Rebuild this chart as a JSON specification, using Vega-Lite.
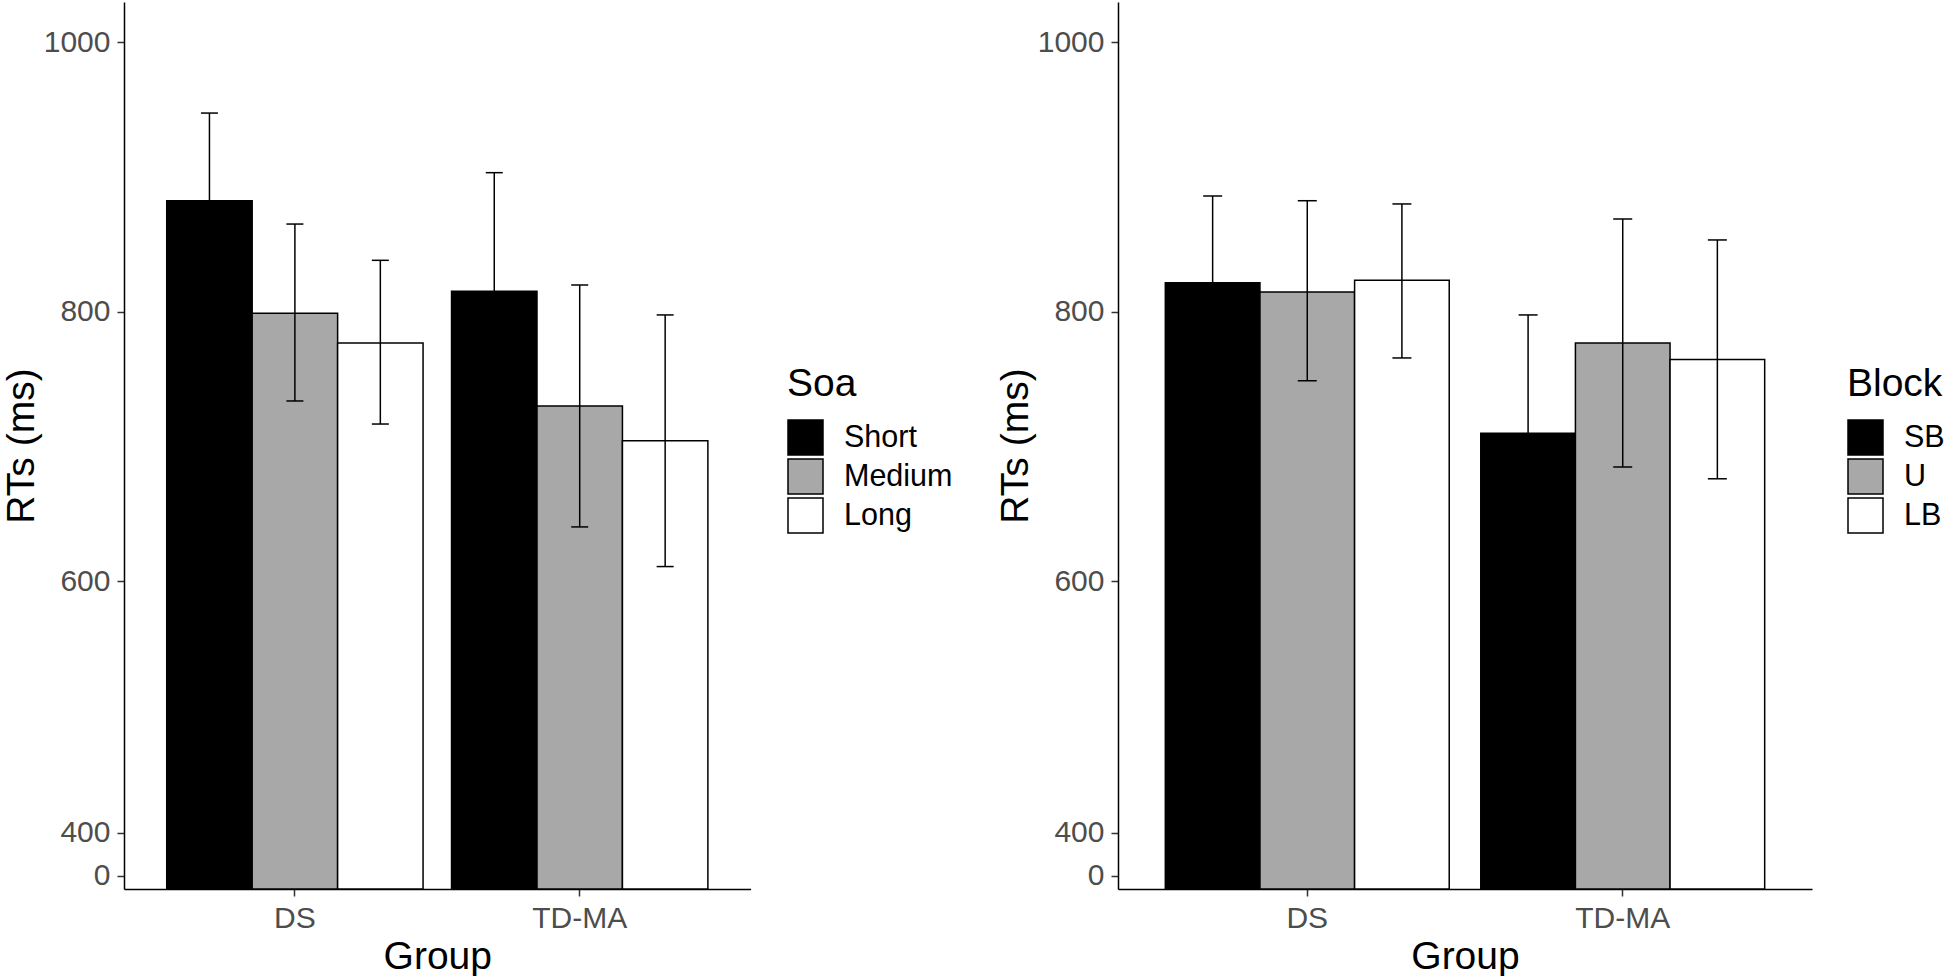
{
  "$schema": "https://vega.github.io/schema/vega-lite/v6.json",
  "background": "white",
  "padding": {"left": 2, "top": 2, "right": 0, "bottom": 0},
  "bounds": "flush",
  "spacing": 367,
  "config": {
    "font": "Liberation Sans",
    "view": {"stroke": null},
    "axis": {
      "grid": false,
      "domainColor": "black",
      "domainWidth": 1.5,
      "tickColor": "#333333",
      "tickWidth": 1.5,
      "tickSize": 7,
      "labelFontSize": 30,
      "labelColor": "#4D4D4D",
      "labelPadding": 7,
      "titleFontSize": 39,
      "titleFontWeight": "normal",
      "titleColor": "black"
    },
    "axisX": {"titlePadding": 4, "labelAngle": 0},
    "axisY": {"titlePadding": 2, "format": "d"},
    "legend": {
      "orient": "none",
      "padding": 0,
      "titleFontSize": 39,
      "titleFontWeight": "normal",
      "titleColor": "black",
      "titlePadding": 15,
      "labelFontSize": 30.5,
      "labelColor": "black",
      "labelOffset": 20,
      "symbolType": "square",
      "symbolSize": 1225,
      "symbolStrokeColor": "black",
      "symbolStrokeWidth": 1.5,
      "symbolOpacity": 1,
      "rowPadding": -2
    }
  },
  "datasets": {
    "soa": [
      {"Group": "DS", "Soa": "Short", "RT": 882.3, "lo": 817.3, "hi": 947.3},
      {"Group": "DS", "Soa": "Medium", "RT": 798.8, "lo": 733.8, "hi": 865.0},
      {"Group": "DS", "Soa": "Long", "RT": 776.8, "lo": 716.7, "hi": 838.1},
      {"Group": "TD-MA", "Soa": "Short", "RT": 815.1, "lo": 727.0, "hi": 903.1},
      {"Group": "TD-MA", "Soa": "Medium", "RT": 730.1, "lo": 640.4, "hi": 819.8},
      {"Group": "TD-MA", "Soa": "Long", "RT": 704.3, "lo": 611.0, "hi": 797.6}
    ],
    "block": [
      {"Group": "DS", "Block": "SB", "RT": 821.5, "lo": 757.2, "hi": 885.8},
      {"Group": "DS", "Block": "U", "RT": 814.6, "lo": 748.8, "hi": 882.3},
      {"Group": "DS", "Block": "LB", "RT": 823.3, "lo": 765.7, "hi": 879.9},
      {"Group": "TD-MA", "Block": "SB", "RT": 709.8, "lo": 622.0, "hi": 797.6},
      {"Group": "TD-MA", "Block": "U", "RT": 776.8, "lo": 684.8, "hi": 868.7},
      {"Group": "TD-MA", "Block": "LB", "RT": 764.6, "lo": 676.1, "hi": 853.2}
    ]
  },
  "resolve": {
    "scale": {"x": "independent", "y": "independent", "color": "independent", "xOffset": "independent"},
    "legend": {"color": "independent"},
    "axis": {"x": "independent", "y": "independent"}
  },
  "hconcat": [
    {
      "width": 626.6,
      "height": 887,
      "data": {"name": "soa"},
      "encoding": {
        "x": {"field": "Group", "type": "nominal", "sort": ["DS", "TD-MA"], "scale": {"paddingInner": 0.1, "paddingOuter": 0.15}, "axis": {"title": "Group"}},
        "xOffset": {"field": "Soa", "type": "nominal", "sort": ["Short", "Medium", "Long"], "scale": {"paddingInner": 0, "paddingOuter": 0}}
      },
      "layer": [
        {
          "mark": {"type": "bar", "stroke": "black", "strokeWidth": 1.5, "opacity": 1},
          "encoding": {
            "y": {"field": "RT", "type": "quantitative", "title": "RTs (ms)",
              "scale": {"domain": [-123.7, 0, 400, 600, 1000, 1029.66], "range": [887, 873.7, 830.7, 579.4, 40, 0], "zero": false, "nice": false},
              "axis": {"values": [0, 400, 600, 800, 1000]}},
            "y2": {"datum": -123.7},
            "color": {"field": "Soa", "type": "nominal", "sort": ["Short", "Medium", "Long"],
              "scale": {"domain": ["Short", "Medium", "Long"], "range": ["#000000", "#A8A8A8", "#FFFFFF"]},
              "legend": {"title": "Soa", "legendX": 663, "legendY": 363}}
          }
        },
        {
          "mark": {"type": "rule", "color": "black", "strokeWidth": 1.5},
          "encoding": {
            "y": {"field": "lo", "type": "quantitative", "title": "RTs (ms)"},
            "y2": {"field": "hi"}
          }
        },
        {
          "mark": {"type": "tick", "color": "black", "thickness": 1.5, "size": 17, "opacity": 1},
          "encoding": {"y": {"field": "hi", "type": "quantitative", "title": "RTs (ms)"}}
        },
        {
          "mark": {"type": "tick", "color": "black", "thickness": 1.5, "size": 17, "opacity": 1},
          "encoding": {"y": {"field": "lo", "type": "quantitative", "title": "RTs (ms)"}}
        }
      ]
    },
    {
      "width": 694,
      "height": 887,
      "data": {"name": "block"},
      "encoding": {
        "x": {"field": "Group", "type": "nominal", "sort": ["DS", "TD-MA"], "scale": {"paddingInner": 0.1, "paddingOuter": 0.15}, "axis": {"title": "Group"}},
        "xOffset": {"field": "Block", "type": "nominal", "sort": ["SB", "U", "LB"], "scale": {"paddingInner": 0, "paddingOuter": 0}}
      },
      "layer": [
        {
          "mark": {"type": "bar", "stroke": "black", "strokeWidth": 1.5, "opacity": 1},
          "encoding": {
            "y": {"field": "RT", "type": "quantitative", "title": "RTs (ms)",
              "scale": {"domain": [-123.7, 0, 400, 600, 1000, 1029.66], "range": [887, 873.7, 830.7, 579.4, 40, 0], "zero": false, "nice": false},
              "axis": {"values": [0, 400, 600, 800, 1000]}},
            "y2": {"datum": -123.7},
            "color": {"field": "Block", "type": "nominal", "sort": ["SB", "U", "LB"],
              "scale": {"domain": ["SB", "U", "LB"], "range": ["#000000", "#A8A8A8", "#FFFFFF"]},
              "legend": {"title": "Block", "legendX": 729, "legendY": 363}}
          }
        },
        {
          "mark": {"type": "rule", "color": "black", "strokeWidth": 1.5},
          "encoding": {
            "y": {"field": "lo", "type": "quantitative", "title": "RTs (ms)"},
            "y2": {"field": "hi"}
          }
        },
        {
          "mark": {"type": "tick", "color": "black", "thickness": 1.5, "size": 19, "opacity": 1},
          "encoding": {"y": {"field": "hi", "type": "quantitative", "title": "RTs (ms)"}}
        },
        {
          "mark": {"type": "tick", "color": "black", "thickness": 1.5, "size": 19, "opacity": 1},
          "encoding": {"y": {"field": "lo", "type": "quantitative", "title": "RTs (ms)"}}
        }
      ]
    }
  ]
}
